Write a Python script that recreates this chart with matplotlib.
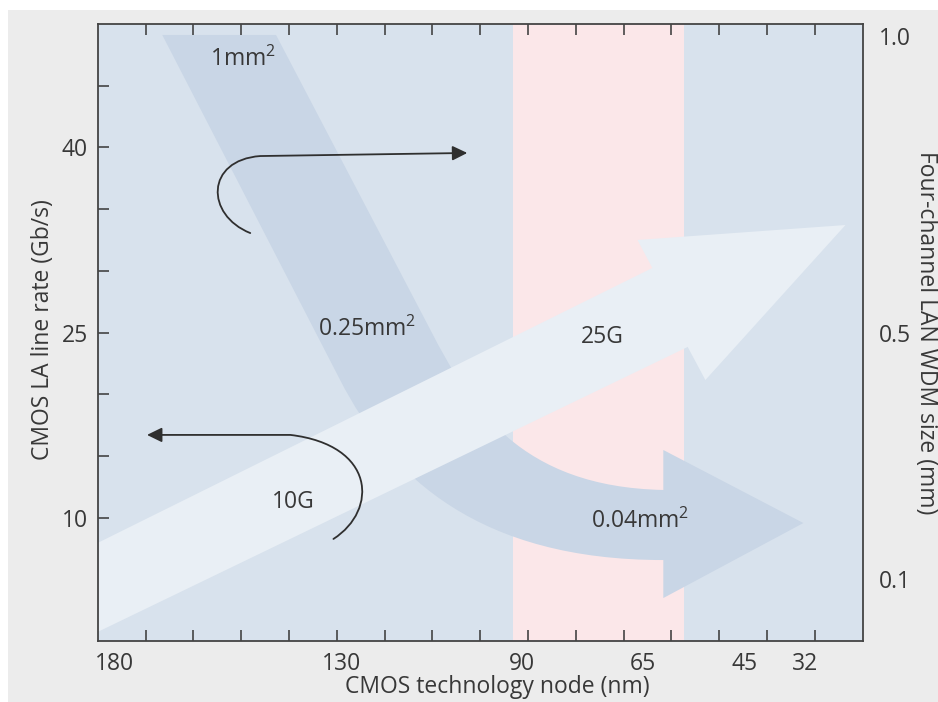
import matplotlib
matplotlib.use('Agg')
import matplotlib.pyplot as plt
from matplotlib.path import Path
from matplotlib.patches import PathPatch, Polygon, FancyArrowPatch, Rectangle
from matplotlib.ticker import FixedLocator

plt.rcParams['font.family'] = ['Open Sans', 'DejaVu Sans']
plt.rcParams['mathtext.default'] = 'regular'

# bottom axis: one unit per tick mark, labels sit at their own positions
node_labels = ['180', '130', '90', '65', '45', '32']
node_pos = [0.34, 5.11, 8.88, 11.4, 13.53, 14.79]

# left axis (Gb/s) and right axis (mm)
rate_ticks = [10, 25, 40]
size_labels = ['0.1', '0.5', '1.0']
size_pos = [5, 25, 49]

# pink node window
window = [8.69, 12.26]

# shrinking LA area arrow: 1mm2 -> 0.25mm2 -> 0.04mm2
area_x = [1.35, 5.07, 6.12, 8.00, 11.83, 11.83, 14.76, 11.83, 11.83, 8.84, 7.79, 6.96, 3.73, 1.35]
area_y = [49.11, 21.15, 13.21, 6.56, 6.56, 3.48, 9.56, 15.48, 12.24, 12.48, 18.96, 25.20, 49.11, 49.11]
area_codes = [Path.MOVETO, Path.LINETO, Path.CURVE4, Path.CURVE4, Path.CURVE4,
              Path.LINETO, Path.LINETO, Path.LINETO, Path.LINETO,
              Path.CURVE4, Path.CURVE4, Path.CURVE4, Path.LINETO, Path.CLOSEPOLY]

# growing line-rate arrow: 10G -> 25G
rate_x = [-0.5, 12.34, 12.71, 15.64, 11.29, 11.60, -0.5]
rate_y = [-0.2, 23.83, 21.15, 33.71, 32.50, 30.23, 6.99]

# curved pointers
arrow1_x = [3.19, 2.25, 2.25, 3.40, 7.73]
arrow1_y = [33.06, 34.52, 38.98, 39.30, 39.55]
arrow2_x = [4.93, 5.87, 5.81, 4.03, 1.03]
arrow2_y = [8.27, 10.62, 15.88, 16.70, 16.70]
curve_codes = [Path.MOVETO, Path.CURVE4, Path.CURVE4, Path.CURVE4, Path.LINETO]

labels = ['1mm$^{2}$', '0.25mm$^{2}$', '25G', '10G', '0.04mm$^{2}$']
label_x = [3.04, 5.64, 10.56, 4.09, 11.35]
label_y = [47.1, 25.3, 24.6, 11.3, 9.7]

text_c = '#383838'
fs = 16.5

fig = plt.figure(figsize=(9.38, 7.02), dpi=100, facecolor='white')
fig.patches.append(Rectangle((8 / 938, 0), 1, 692 / 702, transform=fig.transFigure,
                             facecolor='#ececec', edgecolor='none', zorder=-10))
ax = fig.add_axes([0.1042, 0.0869, 0.8155, 0.8789])
ax.set_facecolor('#d8e2ed')
ax.set_xlim(0, 16)
ax.set_ylim(0, 50)

ax.axvspan(window[0], window[1], color='#fbe7e9', lw=0, zorder=0.5)

ax.add_patch(PathPatch(Path(list(zip(area_x, area_y)), area_codes),
                       facecolor='#c9d6e6', edgecolor='none', zorder=1))
ax.add_patch(Polygon(list(zip(rate_x, rate_y)), closed=True,
                     facecolor='#e9eff5', edgecolor='none', zorder=2))

for xs, ys in [(arrow1_x, arrow1_y), (arrow2_x, arrow2_y)]:
    ax.add_patch(FancyArrowPatch(path=Path(list(zip(xs, ys)), curve_codes),
                                 arrowstyle='-|>,head_length=0.45,head_width=0.22',
                                 mutation_scale=20, lw=1.3, color='#2f2f2f',
                                 shrinkA=0, shrinkB=0, zorder=3))

for t, x, y in zip(labels, label_x, label_y):
    ax.text(x, y, t, ha='center', va='center', fontsize=fs, color=text_c, zorder=4)

# ticks: marks as minor ticks, labels as major ticks without marks
ax.xaxis.remove_overlapping_locs = False
ax.yaxis.remove_overlapping_locs = False
ax.xaxis.set_minor_locator(FixedLocator(range(1, 16)))
ax.yaxis.set_minor_locator(FixedLocator(range(5, 50, 5)))
ax.set_xticks(node_pos, node_labels)
ax.set_yticks(rate_ticks, [str(v) for v in rate_ticks])
ax.tick_params(which='minor', direction='in', length=8, width=1.2, color='#444444',
               top=True, right=True, bottom=True, left=True)
ax.tick_params(which='major', length=0, labelsize=fs, labelcolor=text_c)
ax.tick_params(axis='x', which='major', pad=8)
ax.tick_params(axis='y', which='major', pad=7)
for s in ax.spines.values():
    s.set_color('#444444')
    s.set_linewidth(1.3)

ax2 = ax.twinx()
ax2.set_ylim(0, 50)
ax2.set_yticks(size_pos, size_labels)
ax2.tick_params(length=0, labelsize=fs, labelcolor=text_c, pad=12)
for s in ax2.spines.values():
    s.set_visible(False)

ax.set_xlabel('CMOS technology node (nm)', fontsize=fs, color=text_c, va='center', ha='center')
ax.xaxis.set_label_coords(0.522, -0.074)
ax.set_ylabel('CMOS LA line rate (Gb/s)', fontsize=fs, color=text_c, va='center', ha='center')
ax.yaxis.set_label_coords(-0.072, 0.505)
ax2.set_ylabel('Four-channel LAN WDM size (mm)', fontsize=fs, color=text_c,
               rotation=-90, va='center', ha='center')
ax2.yaxis.set_label_coords(1.083, 0.5)

fig.savefig('out.png', dpi=100, facecolor=fig.get_facecolor())
